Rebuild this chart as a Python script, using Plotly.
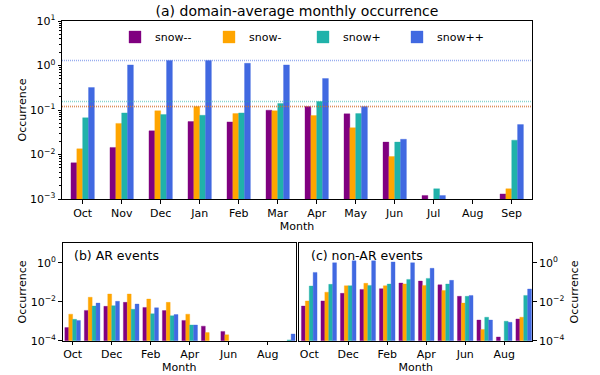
import plotly.graph_objects as go

months = ["Oct", "Nov", "Dec", "Jan", "Feb", "Mar", "Apr", "May", "Jun", "Jul", "Aug", "Sep"]
series_names = ["snow--", "snow-", "snow+", "snow++"]
colors = ["#800080", "#FFA500", "#20B2AA", "#4169E1"]

# (a) domain-average monthly occurrence
all_snow_mm = [0.0065, 0.0144, 0.034, 0.055, 0.054, 0.099, 0.12, 0.082, 0.019, 0.0012, None, 0.0013]
all_snow_m = [0.0134, 0.05, 0.096, 0.12, 0.083, 0.096, 0.075, 0.04, 0.009, None, None, 0.0017]
all_snow_p = [0.067, 0.086, 0.079, 0.076, 0.086, 0.14, 0.155, 0.083, 0.019, 0.0017, None, 0.021]
all_snow_pp = [0.32, 1.03, 1.3, 1.3, 1.12, 1.03, 0.51, 0.12, 0.022, 0.0012, None, 0.047]

# (b) AR events
ar_snow_mm = [0.00047, 0.0036, 0.0058, 0.0093, 0.0051, 0.0035, 0.0011, 0.00056, 0.0003, None, None, None]
ar_snow_m = [0.0023, 0.017, 0.025, 0.025, 0.0138, 0.0093, 0.0023, 0.00026, 0.0002, None, None, None]
ar_snow_p = [0.00125, 0.006, 0.0063, 0.0041, 0.0024, 0.0019, 0.00064, None, None, None, None, 0.00011]
ar_snow_pp = [0.0011, 0.0085, 0.0105, 0.0076, 0.0049, 0.0022, 0.00064, None, None, None, None, 0.00022]

# (c) non-AR events
nar_snow_mm = [0.006, 0.011, 0.027, 0.043, 0.047, 0.091, 0.115, 0.074, 0.019, 0.00115, 0.000155, 0.0013]
nar_snow_m = [0.011, 0.031, 0.066, 0.088, 0.066, 0.082, 0.069, 0.038, 0.0085, 0.00038, None, 0.0016]
nar_snow_p = [0.064, 0.078, 0.066, 0.069, 0.081, 0.14, 0.158, 0.081, 0.019, 0.0016, 0.001, 0.021]
nar_snow_pp = [0.32, 1.0, 1.26, 1.26, 1.1, 1.0, 0.52, 0.125, 0.021, 0.00115, 0.00088, 0.045]

all_series = [all_snow_mm, all_snow_m, all_snow_p, all_snow_pp]
ar_series = [ar_snow_mm, ar_snow_m, ar_snow_p, ar_snow_pp]
nar_series = [nar_snow_mm, nar_snow_m, nar_snow_p, nar_snow_pp]

FONT = "DejaVu Sans"
x_idx = list(range(len(months)))

fig = go.Figure()


def rgba(hexc, a):
    h = hexc.lstrip("#")
    r, g, b = int(h[0:2], 16), int(h[2:4], 16), int(h[4:6], 16)
    return f"rgba({r},{g},{b},{a})"


for i, (name, col) in enumerate(zip(series_names, colors)):
    fig.add_trace(go.Bar(x=x_idx, y=all_series[i], name=name, marker_color=col,
                         marker_line=dict(color=rgba(col, 0.35), width=1),
                         width=0.15, offset=-0.3 + i * 0.15,
                         xaxis="x", yaxis="y", showlegend=True))
    fig.add_trace(go.Bar(x=x_idx, y=ar_series[i], name=name, marker_color=col,
                         marker_line=dict(color=rgba(col, 0.35), width=1),
                         width=0.2, offset=-0.4 + i * 0.2,
                         xaxis="x2", yaxis="y2", showlegend=False))
    fig.add_trace(go.Bar(x=x_idx, y=nar_series[i], name=name, marker_color=col,
                         marker_line=dict(color=rgba(col, 0.35), width=1),
                         width=0.2, offset=-0.4 + i * 0.2,
                         xaxis="x3", yaxis="y3", showlegend=False))

# dotted lines at the maximum of each series (panel a)
shapes = []
for i, col in enumerate(colors):
    m = max(v for v in all_series[i] if v is not None)
    shapes.append(dict(type="line", xref="x domain", yref="y", x0=0, x1=1, y0=m, y1=m,
                       layer="above",
                       line=dict(color=rgba(col, 0.55), width=1.5, dash="1px,1px")))


def sup(e):
    s = str(e).replace("-", "\u2212")
    return f"10<sup>{s}</sup>"


minor_vals = [k * 10.0 ** e for e in range(-3, 1) for k in range(2, 10)]

tick_font = dict(family=FONT, size=11, color="black")
common_axis = dict(showline=True, linecolor="black", linewidth=1, mirror=True,
                   showgrid=False, zeroline=False, ticks="outside", ticklen=3.5,
                   tickcolor="black", tickfont=tick_font, automargin=False)

fig.update_layout(
    template="none",
    width=600, height=375,
    margin=dict(l=0, r=0, t=0, b=0),
    paper_bgcolor="white", plot_bgcolor="white",
    barmode="overlay",
    font=dict(family=FONT, size=11, color="black"),
    title=dict(text="(a) domain-average monthly occurrence", x=297 / 600, xanchor="center",
               y=1 - 11 / 375, yanchor="middle", font=dict(family=FONT, size=14, color="black")),
    showlegend=True,
    legend=dict(orientation="h", x=0.505, xanchor="center", y=1 - 37 / 375, yanchor="middle",
                font=dict(family=FONT, size=11), bgcolor="rgba(0,0,0,0)",
                entrywidth=49, entrywidthmode="pixels", traceorder="normal"),
    xaxis=dict(domain=[62 / 600, 532 / 600], anchor="y", range=[-0.53, 11.52],
               tickvals=x_idx, ticktext=months,
               title=dict(text="Month", font=dict(family=FONT, size=11), standoff=2),
               **common_axis),
    yaxis=dict(domain=[(375 - 199) / 375, (375 - 21) / 375], anchor="x", type="log", range=[-3, 1],
               tickvals=[1e-3, 1e-2, 1e-1, 1, 10], ticktext=[sup(e) for e in [-3, -2, -1, 0, 1]],
               minor=dict(tickvals=minor_vals, ticks="outside", ticklen=2, tickcolor="black", showgrid=False),
               title=dict(text="Occurrence", font=dict(family=FONT, size=11), standoff=1),
               **common_axis),
    xaxis2=dict(domain=[62.7 / 600, 296 / 600], anchor="y2", range=[-0.51, 11.45],
                tickvals=x_idx[::2], ticktext=months[::2],
                title=dict(text="Month", font=dict(family=FONT, size=11), standoff=2),
                **common_axis),
    yaxis2=dict(domain=[(375 - 340.7) / 375, (375 - 243.3) / 375], anchor="x2", type="log", range=[-4, 1],
                tickvals=[1e-4, 1e-2, 1], ticktext=[sup(e) for e in [-4, -2, 0]],
                title=dict(text="Occurrence", font=dict(family=FONT, size=11), standoff=1),
                **common_axis),
    xaxis3=dict(domain=[299.3 / 600, 532.3 / 600], anchor="y3", range=[-0.51, 11.44],
                tickvals=x_idx[::2], ticktext=months[::2],
                title=dict(text="Month", font=dict(family=FONT, size=11), standoff=2),
                **common_axis),
    yaxis3=dict(domain=[(375 - 340.7) / 375, (375 - 243.3) / 375], anchor="x3", type="log", range=[-4, 1],
                side="right",
                tickvals=[1e-4, 1e-2, 1], ticktext=[sup(e) for e in [-4, -2, 0]],
                title=dict(text="Occurrence", font=dict(family=FONT, size=11), standoff=6),
                **common_axis),
    shapes=shapes,
    annotations=[
        dict(text="(b) AR events", xref="x2 domain", yref="y2 domain", x=0.04, y=0.97,
             xanchor="left", yanchor="top", showarrow=False, font=dict(family=FONT, size=12.5)),
        dict(text="(c) non-AR events", xref="x3 domain", yref="y3 domain", x=0.04, y=0.97,
             xanchor="left", yanchor="top", showarrow=False, font=dict(family=FONT, size=12.5)),
    ],
)

fig.write_html("out.html", config={"displayModeBar": False},
               post_script="document.body.style.margin='0';document.body.style.padding='0';")
